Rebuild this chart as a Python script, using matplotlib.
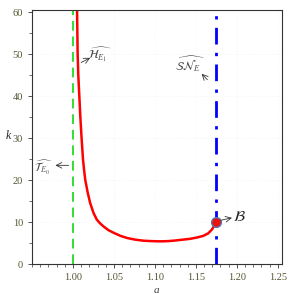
import matplotlib.pyplot as plt
from matplotlib.ticker import MultipleLocator

plt.rcParams['mathtext.fontset'] = 'stix'
plt.rcParams['font.family'] = 'Liberation Serif'

# red curve (a, k)
a_vals = [1.005, 1.0057, 1.0065, 1.008, 1.009, 1.0105, 1.0122, 1.0135, 1.015, 1.018,
          1.021, 1.025, 1.029, 1.033, 1.037, 1.043, 1.050, 1.058, 1.066, 1.076,
          1.086, 1.096, 1.106, 1.116, 1.125, 1.134, 1.143, 1.151, 1.159, 1.165,
          1.1695, 1.172, 1.174]
k_vals = [60.5, 50.0, 45.0, 39.0, 35.0, 30.0, 25.0, 22.5, 20.0, 17.0,
          14.5, 12.2, 10.6, 9.7, 9.0, 8.1, 7.4, 6.7, 6.2, 5.8,
          5.55, 5.45, 5.4, 5.45, 5.6, 5.8, 6.0, 6.3, 6.7, 7.3,
          8.2, 9.0, 10.0]

a_T = 1.00     # green dashed line
a_SN = 1.174   # blue dash-dot line
B = (1.174, 10.0)

xticks = [1.00, 1.05, 1.10, 1.15, 1.20, 1.25]
yticks = [0, 10, 20, 30, 40, 50, 60]

fig = plt.figure(figsize=(2.99, 2.94), dpi=100)
ax = fig.add_axes([0.107, 0.102, 0.836, 0.864])

ax.grid(True, color='#f2f2f2', linewidth=0.5, linestyle=':')
ax.axvline(a_T, color='#33dd33', linestyle=(0, (5, 3)), linewidth=1.4)
ax.axvline(a_SN, color='#0000ff', linestyle=(0, (6, 3, 1.2, 3)), linewidth=2)
ax.plot(a_vals, k_vals, color='#ff0000', linewidth=1.8, solid_capstyle='round',
        solid_joinstyle='round')
ax.plot([B[0]], [B[1]], marker='o', markersize=7, markerfacecolor='#ee1111',
        markeredgecolor='#5577aa', markeredgewidth=1.0)

arr = dict(arrowstyle='->', color='#333333', lw=0.6, shrinkA=0, shrinkB=0)
ax.annotate('', xy=(1.021, 49.1), xytext=(1.010, 48.0), arrowprops=arr)
ax.text(1.033, 49.8, r'$\widehat{\mathcal{H}_{E_1}}$', fontsize=8.5, ha='center', va='center', color='#444444')
ax.annotate('', xy=(1.157, 45.3), xytext=(1.164, 43.9), arrowprops=arr)
ax.text(1.143, 47.7, r'$\widehat{\mathcal{SN}_{E}}$', fontsize=8.5, ha='center', va='center', color='#444444')
ax.annotate('', xy=(0.9785, 23.5), xytext=(0.9947, 23.5), arrowprops=arr)
ax.text(0.964, 22.9, r'$\widehat{\mathcal{T}_{E_0}}$', fontsize=8.5, ha='center', va='center', color='#555555')
ax.annotate('', xy=(1.194, 11.0), xytext=(1.180, 10.4), arrowprops=arr)
ax.text(1.203, 11.1, r'$\mathcal{B}$', fontsize=11, ha='center', va='center', color='#222222')

ax.set_xlim(0.95, 1.255)
ax.set_ylim(0, 60.5)
ax.set_xticks(xticks)
ax.set_xticklabels(['%.2f' % v for v in xticks])
ax.set_yticks(yticks)
ax.xaxis.set_minor_locator(MultipleLocator(0.01))
ax.yaxis.set_minor_locator(MultipleLocator(5))
ax.tick_params(which='both', direction='out', labelsize=7.5, labelcolor='#555533', color='#333333')
ax.tick_params(which='major', length=3, width=0.6)
ax.tick_params(which='minor', length=2, width=0.5)
for s in ax.spines.values():
    s.set_color('#333333')
    s.set_linewidth(0.8)

ax.set_xlabel('a', fontsize=8, style='italic', color='#444444')
ax.xaxis.set_label_coords(0.5, -0.085)
ax.set_ylabel('k', fontsize=8.5, style='italic', color='#222222', rotation=0)
ax.yaxis.set_label_coords(-0.095, 0.48)

fig.savefig('out.png', dpi=100)
